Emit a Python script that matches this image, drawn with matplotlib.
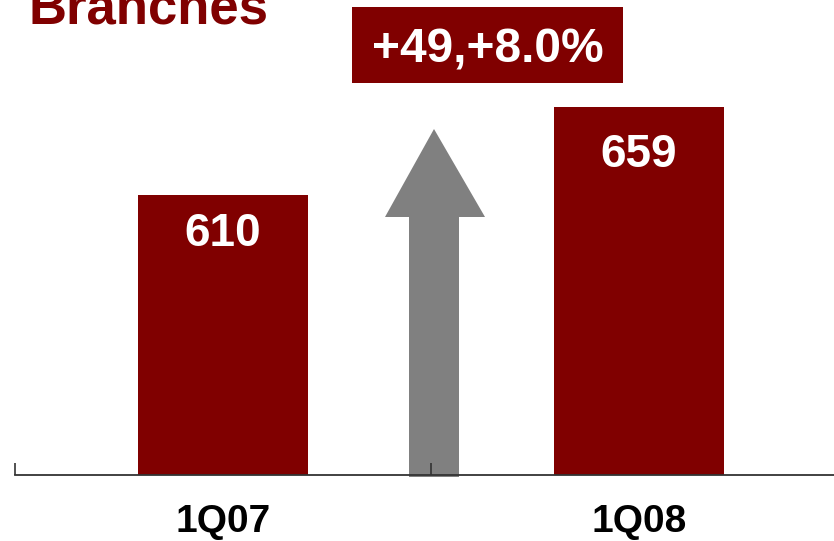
import matplotlib
matplotlib.use("Agg")
import matplotlib.pyplot as plt
from matplotlib.patches import Rectangle, Polygon

plt.rcParams['font.family'] = ['Liberation Sans', 'DejaVu Sans']

# Data
categories = ["1Q07", "1Q08"]
branches = [610, 659]
change_label = "+49,+8.0%"
title = "Branches"

DARK_RED = "#800000"
GREY = "#808080"

W, H = 834, 541
fig = plt.figure(figsize=(W / 100, H / 100), dpi=100)

def fx(px):
    return px / W

def fy(py):
    return 1 - py / H

# Growth arrow (figure pixel geometry), drawn beneath the axes
arrow_px = [(409, 477), (409, 217), (385, 217), (434, 129),
            (485, 217), (459, 217), (459, 477)]
arrow = Polygon([(fx(x), fy(y)) for x, y in arrow_px], closed=True,
                transform=fig.transFigure, facecolor=GREY, edgecolor="none",
                zorder=-1)
fig.patches.append(arrow)

# Axes: baseline at y=475 px, categories spaced 416 px apart starting at x=15
ax = fig.add_axes([fx(15), fy(475), 832 / W, 475 / H])
ax.set_zorder(1)
ax.set_xlim(-0.5, 1.5)
ax.set_ylim(454.1, 718.6)

xs = list(range(len(categories)))
ax.bar(xs, branches, width=0.41, color=DARK_RED, zorder=3)

# Value labels inside the bars
offsets_pt = [-37, -43]
for x, v, off in zip(xs, branches, offsets_pt):
    ax.annotate(str(v), (x, v), xytext=(0, off), textcoords="offset points",
                ha="center", va="baseline", color="white",
                fontsize=33, fontweight="bold", zorder=5)

# Category labels below the axis
for x, c in zip(xs, categories):
    ax.text(x, -57 / 475, c, transform=ax.get_xaxis_transform(),
            ha="center", va="baseline", fontsize=28, fontweight="bold",
            color="black")

for s in ["top", "right", "left"]:
    ax.spines[s].set_visible(False)
ax.spines["bottom"].set_color("#333333")
ax.spines["bottom"].set_linewidth(1.3)
ax.spines["bottom"].set_zorder(6)
ax.set_yticks([])
ax.set_xticks([-0.5, 0.5])
ax.set_xticklabels([])
ax.tick_params(axis="x", direction="in", length=8.5, width=1.2, color="#333333")
ax.set_facecolor("none")

# Change label box
box = Rectangle((fx(352), fy(83)), fx(623) - fx(352), fy(7) - fy(83),
                transform=fig.transFigure, facecolor=DARK_RED,
                edgecolor="none", zorder=2)
fig.patches.append(box)
fig.text(fx(487.5), fy(63), change_label, ha="center", va="baseline",
         color="white", fontsize=34.5, fontweight="bold", zorder=3)

# Title
fig.text(fx(28), fy(23), title, ha="left", va="baseline", color=DARK_RED,
         fontsize=38, fontweight="bold")

fig.savefig("out.png", dpi=100)
